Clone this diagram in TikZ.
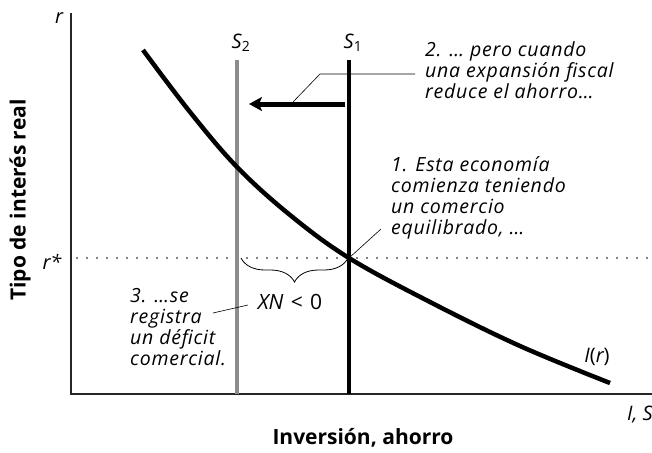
\documentclass[tikz,border=0pt]{standalone}
\usepackage{fontspec}
\setmainfont{Open Sans}
\newfontfamily\labelfont[LetterSpace=4]{Open Sans}
\usetikzlibrary{arrows.meta,decorations.pathreplacing}
\begin{document}
\begin{tikzpicture}[x=1pt,y=-1pt,
  axis/.style={line width=1.2pt, black!85},
  sline/.style={line width=4pt, line cap=butt},
  curvestyle/.style={line width=4.5pt, line cap=butt},
  leader/.style={line width=0.6pt},
  dotline/.style={line width=1.8pt, line cap=round, dash pattern=on 0pt off 10pt},
  lbl/.style={font=\labelfont\fontsize{19.5}{21}\selectfont\itshape, inner sep=0pt, align=left, anchor=north west},
  axlbl/.style={font=\fontsize{20}{22}\selectfont\itshape, inner sep=0pt},
  title/.style={font=\fontsize{21}{22}\selectfont\bfseries, inner sep=0pt}]
\useasboundingbox (0,0) rectangle (652,452);
% axes
\coordinate (ytop) at (71,13);
\coordinate (O) at (71,394);
\coordinate (xend) at (652,394);
\draw[axis] (ytop) -- (O) -- (xend);
% r* dotted line
\coordinate (rs) at (77,258);
\coordinate (re) at (650,258);
\draw[dotline] (rs) -- (re);
% S lines
\coordinate (s2t) at (237,60);
\coordinate (s2b) at (237,394);
\coordinate (s1t) at (349,60);
\coordinate (s1b) at (349,394);
\draw[sline, black!45] (s2t) -- (s2b);
\draw[sline, black] (s1t) -- (s1b);
% investment curve
\draw[curvestyle] plot[smooth, tension=0.6] coordinates {(143,50) (190,112) (237,167) (290,215) (349,258) (430,302) (520,346) (610,383)};
\coordinate (E) at (349,258);
% arrow
\coordinate (a1) at (345,104);
\coordinate (a2) at (249,104);
\draw[line width=5pt, -{Stealth[length=13pt,width=14pt,inset=3pt]}] (a1) -- (a2);
% brace
\coordinate (b1) at (241,258);
\coordinate (b2) at (348,258);
\draw[line width=0.8pt, decorate, decoration={brace, mirror, amplitude=24pt}] (b1) -- (b2);
% labels
\node[axlbl] (r) at (59,18) {r};
\node[axlbl] (rstar) at (52,262) {r*};
\node[axlbl] (S2) at (241,43) {S\textsubscript{\upshape 2}};
\node[axlbl] (S1) at (353,43) {S\textsubscript{\upshape 1}};
\node[axlbl] (Ir) at (597,357) {I{\upshape(}r{\upshape)}};
\node[axlbl, anchor=east] (IS) at (653,415) {I, S};
\node[axlbl, font=\fontsize{21}{22}\selectfont\itshape] (XN) at (290,302) {XN\hspace{0.35em}{\upshape<}\hspace{0.35em}{\upshape 0}};
\node[lbl] (L2) at (425,41) {2. … pero cuando\\una expansión fiscal\\reduce el ahorro…};
\node[lbl] (L1) at (391,156) {1. Esta economía\\comienza teniendo\\un comercio\\equilibrado, …};
\node[lbl] (L3) at (130,288) {3. …se\\registra\\un déficit\\comercial.};
\node[title] (xt) at (363,438) {Inversión, ahorro};
\node[title, rotate=90] (yt) at (20,200) {Tipo de interés real};
% leaders
\coordinate (l2a) at (293,102);
\coordinate (l2b) at (320,74);
\coordinate (l2c) at (415,74);
\draw[leader] (l2a) -- (l2b) -- (l2c);
\coordinate (l1) at (381,229);
\draw[leader] (E) -- (l1);
\coordinate (l3a) at (213,313);
\coordinate (l3b) at (248,305);
\draw[leader] (l3a) -- (l3b);
\end{tikzpicture}
\end{document}
